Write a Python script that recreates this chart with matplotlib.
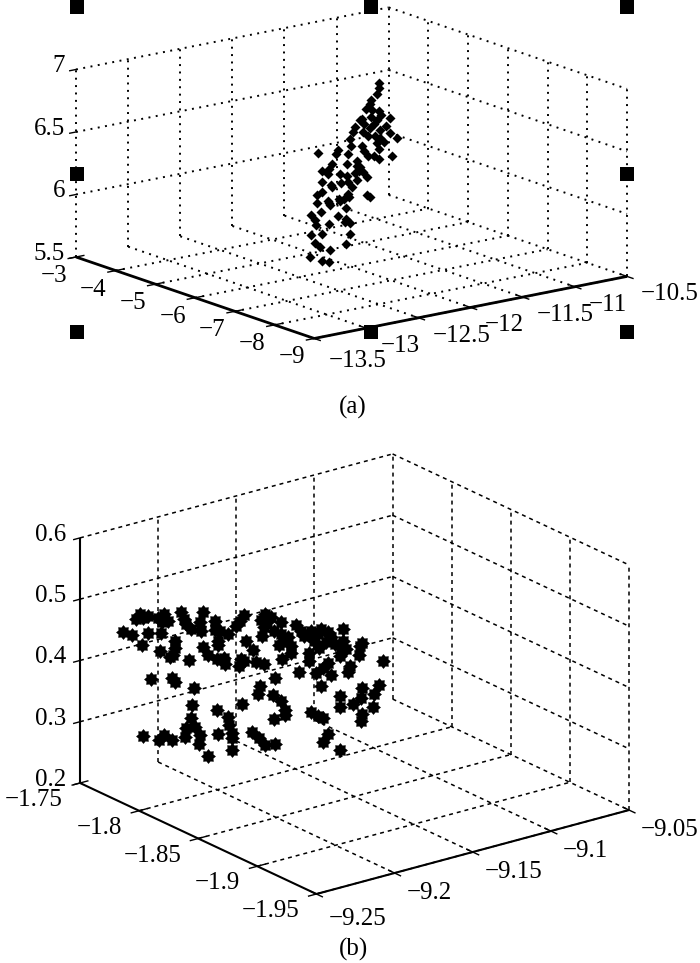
import numpy as np
import matplotlib
matplotlib.use('Agg')
import matplotlib.pyplot as plt
from matplotlib.patches import Rectangle
from matplotlib.path import Path
from matplotlib.transforms import IdentityTransform
from mpl_toolkits.mplot3d import proj3d

plt.rcParams['font.family'] = ['Liberation Serif', 'DejaVu Serif']

# panel (a) ticks
a_xticks = [-3, -4, -5, -6, -7, -8, -9]
a_yticks = [-13.5, -13, -12.5, -12, -11.5, -11, -10.5]
a_zticks = [5.5, 6, 6.5, 7]
a_xlabels = ['−3', '−4', '−5', '−6', '−7', '−8', '−9']
a_ylabels = ['−13.5', '−13', '−12.5', '−12', '−11.5', '−11', '−10.5']
a_zlabels = ['5.5', '6', '6.5', '7']

# panel (a) points, upper part of the sheet (x about -5)
a_y_upper = [-11.356, -11.356, -11.372, -11.433, -11.446, -11.478, -11.423, -11.356, -11.333, -11.253,
             -11.516, -11.430, -11.375, -11.285, -11.503, -11.439, -11.343, -11.253, -11.183, -11.587,
             -11.606, -11.638, -11.510, -11.465, -11.391, -11.304, -11.625, -11.519, -11.497, -11.465,
             -11.375, -11.356, -11.401, -11.359, -11.231, -11.535, -11.407, -11.343]
a_z_upper = [6.755, 6.717, 6.666, 6.628, 6.598, 6.565, 6.551, 6.528, 6.498, 6.457,
             6.494, 6.493, 6.465, 6.400, 6.451, 6.408, 6.375, 6.341, 6.288, 6.439,
             6.401, 6.352, 6.385, 6.350, 6.337, 6.277, 6.296, 6.278, 6.233, 6.188,
             6.281, 6.223, 6.177, 6.143, 6.148, 6.484, 6.435, 6.315]
# middle (x about -6)
a_y_mid = [-12.319, -12.127, -12.149, -12.031, -12.191, -12.213, -12.047, -11.944, -11.918, -11.886,
           -11.848, -12.287, -12.223, -12.111, -12.047, -11.966, -11.944, -12.037, -12.287, -12.200,
           -12.101, -11.998, -12.287, -12.335, -12.031, -12.072, -12.117, -12.223, -12.191, -11.950,
           -11.925, -12.024]
a_z_mid = [6.459, 6.453, 6.430, 6.410, 6.356, 6.320, 6.327, 6.336, 6.283, 6.237,
           6.196, 6.311, 6.281, 6.257, 6.230, 6.243, 6.185, 6.182, 6.225, 6.183,
           6.185, 6.135, 6.144, 6.133, 6.086, 6.052, 6.060, 6.060, 6.167, 6.294,
           6.257, 6.063]
# lower part (x about -7)
a_y_lower = [-12.231, -12.205, -12.712, -12.590, -12.430, -12.670, -12.510, -12.766, -12.734, -12.436,
             -12.398, -12.446, -12.718, -12.600, -12.664, -12.766, -12.391, -12.734, -12.680, -12.430,
             -12.590, -12.776, -12.660, -12.596, -12.596, -12.487]
a_z_lower = [6.219, 6.197, 6.234, 6.199, 6.153, 6.159, 6.096, 6.148, 6.103, 6.065,
             6.023, 6.040, 6.059, 6.053, 5.983, 5.992, 5.936, 5.919, 5.877, 5.862,
             5.840, 5.818, 5.765, 5.741, 6.214, 6.218]

# panel (b) ticks
b_xticks = [-1.75, -1.8, -1.85, -1.9, -1.95]
b_yticks = [-9.25, -9.2, -9.15, -9.1, -9.05]
b_zticks = [0.2, 0.3, 0.4, 0.5, 0.6]
b_xlabels = ['−1.75', '−1.8', '−1.85', '−1.9', '−1.95']
b_ylabels = ['−9.25', '−9.2', '−9.15', '−9.1', '−9.05']
b_zlabels = ['0.2', '0.3', '0.4', '0.5', '0.6']

# panel (b) points at x about -1.78
b_y_near = [-9.2341, -9.2369, -9.2326, -9.2294, -9.2230, -9.2187, -9.2165, -9.2202, -9.2079, -9.2062,
            -9.2047, -9.2015, -9.1961, -9.1954, -9.1939, -9.1864, -9.1860, -9.1778, -9.1832, -9.2449,
            -9.2391, -9.2294, -9.2208, -9.2333, -9.2118, -9.2122, -9.2154, -9.2133, -9.2214, -9.2032,
            -9.1939, -9.1847, -9.1843, -9.1911, -9.1853, -9.1804, -9.1800, -9.2273, -9.2139, -9.2122,
            -9.1997, -9.2010, -9.1853, -9.2019, -9.1778, -9.1774, -9.1757, -9.1757, -9.1757, -9.2326,
            -9.2219, -9.2187, -9.2139, -9.2047, -9.1993, -9.2053, -9.1961, -9.1965, -9.1911, -9.1843]
b_z_near = [.4922, .4859, .4840, .4851, .4773, .4816, .4691, .4688, .4770, .4647,
            .4554, .4448, .4522, .4380, .4674, .4484, .4331, .4214, .4296, .4703,
            .4608, .4575, .4516, .4402, .4326, .4218, .4092, .4116, .4227, .3963,
            .4110, .4140, .4081, .3963, .3851, .3833, .3736, .3808, .3732, .3654,
            .3475, .3201, .3027, .2997, .2848, .2724, .2585, .2502, .2297, .2921,
            .2775, .2842, .2720, .2857, .2842, .2717, .2680, .2534, .2315, .2616]
# panel (b) points at x about -1.85
b_y_far = [-9.2207, -9.2233, -9.2261, -9.2074, -9.2100, -9.2057, -9.2079, -9.2089, -9.1971, -9.1971,
           -9.2014, -9.1960, -9.1982, -9.1907, -9.1874, -9.1842, -9.1788, -9.1713, -9.1670, -9.1756,
           -9.1724, -9.1649, -9.1627, -9.1573, -9.1552, -9.1595, -9.1466, -9.1451, -9.1472, -9.1315,
           -9.1788, -9.1788, -9.1670, -9.1702, -9.1745, -9.1649, -9.1530, -9.1541, -9.1853, -9.1965,
           -9.2192, -9.2149, -9.2229, -9.2240, -9.2207, -9.2132, -9.2079, -9.2010, -9.1713, -9.1595,
           -9.1595, -9.1509, -9.1459, -9.1449, -9.1373, -9.1341, -9.1384, -9.1449, -9.1459, -9.2104,
           -9.2117, -9.2020, -9.1971, -9.1945, -9.1945, -9.2018, -9.2218, -9.1777, -9.1734, -9.1702,
           -9.1670, -9.1702, -9.1590, -9.2154, -9.2111, -9.2074, -9.2010, -9.2036, -9.1928, -9.1821,
           -9.1681, -9.1584, -9.1907, -9.1777, -9.1573, -9.1734]
b_z_far = [.5444, .5367, .5298, .5379, .5287, .5229, .5161, .5030, .5170, .4977,
           .5061, .4858, .4807, .4628, .5048, .4943, .4851, .4882, .4797, .4718,
           .4585, .4699, .4574, .4786, .4439, .4358, .4435, .4480, .4290, .4093,
           .4547, .4408, .4300, .4239, .4185, .4091, .4147, .4061, .4275, .4557,
           .5018, .4834, .4739, .4636, .4697, .4634, .4553, .4284, .3947, .3711,
           .3529, .3520, .3574, .3743, .3586, .3713, .3389, .3317, .3198, .4212,
           .4098, .4015, .3882, .3714, .3631, .3615, .4002, .3572, .3475, .3420,
           .3138, .3022, .2818, .3499, .3369, .3234, .3205, .5297, .4891, .4845,
           .4638, .4488, .4738, .4899, .4592, .4814]

handle_px = [77, 371, 627]
handle_py = [7, 174, 332]

W, H = 700, 963
fig = plt.figure(figsize=(W / 100, H / 100), dpi=100)


def make_axes():
    ax = fig.add_axes([0, 0, 760 / W, 760 / H], projection='3d', proj_type='ortho')
    ax.set_axis_off()
    ax.patch.set_visible(False)
    ax.computed_zorder = False
    ax.set_autoscale_on(False)
    return ax


def corner_px(ax, x, y, z):
    xp, yp, _ = proj3d.proj_transform(x, y, z, ax.get_proj())
    return ax.transData.transform((xp, yp))


def draw_box(ax, xt, yt, zt, grid_style, grid_lw, axis_lw, solid_z):
    x0, x1 = xt[0], xt[-1]
    y0, y1 = yt[0], yt[-1]
    z0, z1 = zt[0], zt[-1]
    kw = dict(color='k', lw=grid_lw, ls=grid_style, dash_capstyle='butt', zorder=1, clip_on=False)
    # floor
    for x in xt[1:]:
        ax.plot([x, x], [y0, y1], [z0, z0], **kw)
    for y in yt[1:]:
        ax.plot([x0, x1], [y, y], [z0, z0], **kw)
    # the two back walls
    for y in yt:
        ax.plot([x0, x0], [y, y], [z0, z1], **kw)
    for x in xt[1:]:
        ax.plot([x, x], [y1, y1], [z0, z1], **kw)
    for z in zt[1:]:
        ax.plot([x0, x0], [y0, y1], [z, z], **kw)
        ax.plot([x0, x1], [y1, y1], [z, z], **kw)
    # axes and ticks
    sol = dict(color='k', lw=axis_lw, zorder=2, solid_capstyle='butt', clip_on=False)
    ax.plot([x0, x1], [y0, y0], [z0, z0], **sol)
    ax.plot([x1, x1], [y0, y1], [z0, z0], **sol)
    if solid_z:
        ax.plot([x0, x0], [y0, y0], [z0, z1], **sol)
    dx = (x1 - x0) * 0.025
    dy = (y1 - y0) * 0.025
    for x in xt:
        ax.plot([x, x], [y0 - dy, y0 + dy], [z0, z0], color='k', lw=1.0, zorder=2, clip_on=False)
    for y in yt:
        ax.plot([x1 - dx, x1 + dx], [y, y], [z0, z0], color='k', lw=1.0, zorder=2, clip_on=False)
    for z in zt:
        ax.plot([x0, x0], [y0 - dy * 0.8, y0], [z, z], color='k', lw=1.0, zorder=2, clip_on=False)
    ax.set_xlim(x0, x1, view_margin=0)
    ax.set_ylim(y0, y1, view_margin=0)
    ax.set_zlim(z0, z1, view_margin=0)


def tick_text(ax, p, s, off, ha):
    # p is a point in data space, the label sits some pixels away from its projection
    xp, yp, _ = proj3d.proj_transform(p[0], p[1], p[2], ax.get_proj())
    ax.annotate(s, xy=(xp, yp), xycoords='data', xytext=off, textcoords='offset pixels',
                ha=ha, va='center', fontsize=18, annotation_clip=False)


def tick_labels(ax, xt, yt, zt, xlab, ylab, zlab, off_x, off_y, off_z):
    for x, s in zip(xt, xlab):
        tick_text(ax, (x, yt[0], zt[0]), s, off_x, 'right')
    for y, s in zip(yt, ylab):
        # the first label of this axis sits a bit lower in the original
        off = (off_y[0], off_y[1] - 5) if y == yt[0] else off_y
        tick_text(ax, (xt[-1], y, zt[0]), s, off, 'left')
    for z, s in zip(zt, zlab):
        tick_text(ax, (xt[0], yt[0], z), s, off_z, 'right')


def fit_axes(ax, aspect, p_left, p_right, corner_l, corner_r):
    # scale and shift the box so that its left and right floor corners land on the wanted pixels
    ax.set_box_aspect(aspect, zoom=1.0)
    fig.canvas.draw()
    a = corner_px(ax, *corner_l)
    b = corner_px(ax, *corner_r)
    zoom = (p_right[0] - p_left[0]) / (b[0] - a[0])
    ax.set_box_aspect(aspect, zoom=zoom)
    fig.canvas.draw()
    a = corner_px(ax, *corner_l)
    pos = ax.get_position()
    shift_x = p_left[0] - a[0]
    shift_y = (H - p_left[1]) - a[1]
    ax.set_position([pos.x0 + shift_x / W, pos.y0 + shift_y / H, pos.width, pos.height])


# panel (a)
ax_a = make_axes()
ax_a.view_init(elev=15.1, azim=-37.3)
dotted = (0, (1.0, 2.8))
draw_box(ax_a, a_xticks, a_yticks, a_zticks, dotted, 1.4, 2.0, False)
for xv, ys, zs in [(-5, a_y_upper, a_z_upper), (-6, a_y_mid, a_z_mid), (-7, a_y_lower, a_z_lower)]:
    ax_a.scatter([xv] * len(ys), ys, zs, c='k', s=26, marker='D', depthshade=False, linewidths=0,
                 zorder=3, clip_on=False)
fit_axes(ax_a, (1, 1, 0.494), (76, 257), (627, 277), (-3, -13.5, 5.5), (-9, -10.5, 5.5))
tick_labels(ax_a, a_xticks, a_yticks, a_zticks, a_xlabels, a_ylabels, a_zlabels, (-9, -19), (14, -18), (-11, 3))

# panel (b)
ax_b = make_axes()
ax_b.view_init(elev=20.8, azim=-37.1)
dashed = (0, (2.6, 2.6))
draw_box(ax_b, b_xticks, b_yticks, b_zticks, dashed, 1.1, 1.5, True)
blob = Path.unit_regular_star(8, innerCircle=0.72)
for xv, ys, zs in [(-1.78, b_y_near, b_z_near), (-1.85, b_y_far, b_z_far)]:
    ax_b.scatter([xv] * len(ys), ys, zs, c='k', s=115, marker=blob, depthshade=False,
                 linewidths=0, zorder=3, clip_on=False)
fit_axes(ax_b, (1, 1, 0.669), (80, 783), (629, 810), (-1.75, -9.25, 0.2), (-1.95, -9.05, 0.2))
tick_labels(ax_b, b_xticks, b_yticks, b_zticks, b_xlabels, b_ylabels, b_zlabels, (-17, -17), (12, -20), (-14, 3))

# selection handles round panel (a)
for py in handle_py:
    for px in handle_px:
        if py == handle_py[1] and px == handle_px[1]:
            continue
        fig.add_artist(Rectangle((px - 7, H - py - 7), 14, 14, facecolor='k', edgecolor='none',
                                 transform=IdentityTransform()))

fig.text(353 / W, 1 - 407 / H, '(a)', ha='center', va='center', fontsize=18)
fig.text(353 / W, 1 - 949 / H, '(b)', ha='center', va='center', fontsize=18)

fig.savefig('out.png', dpi=100)
